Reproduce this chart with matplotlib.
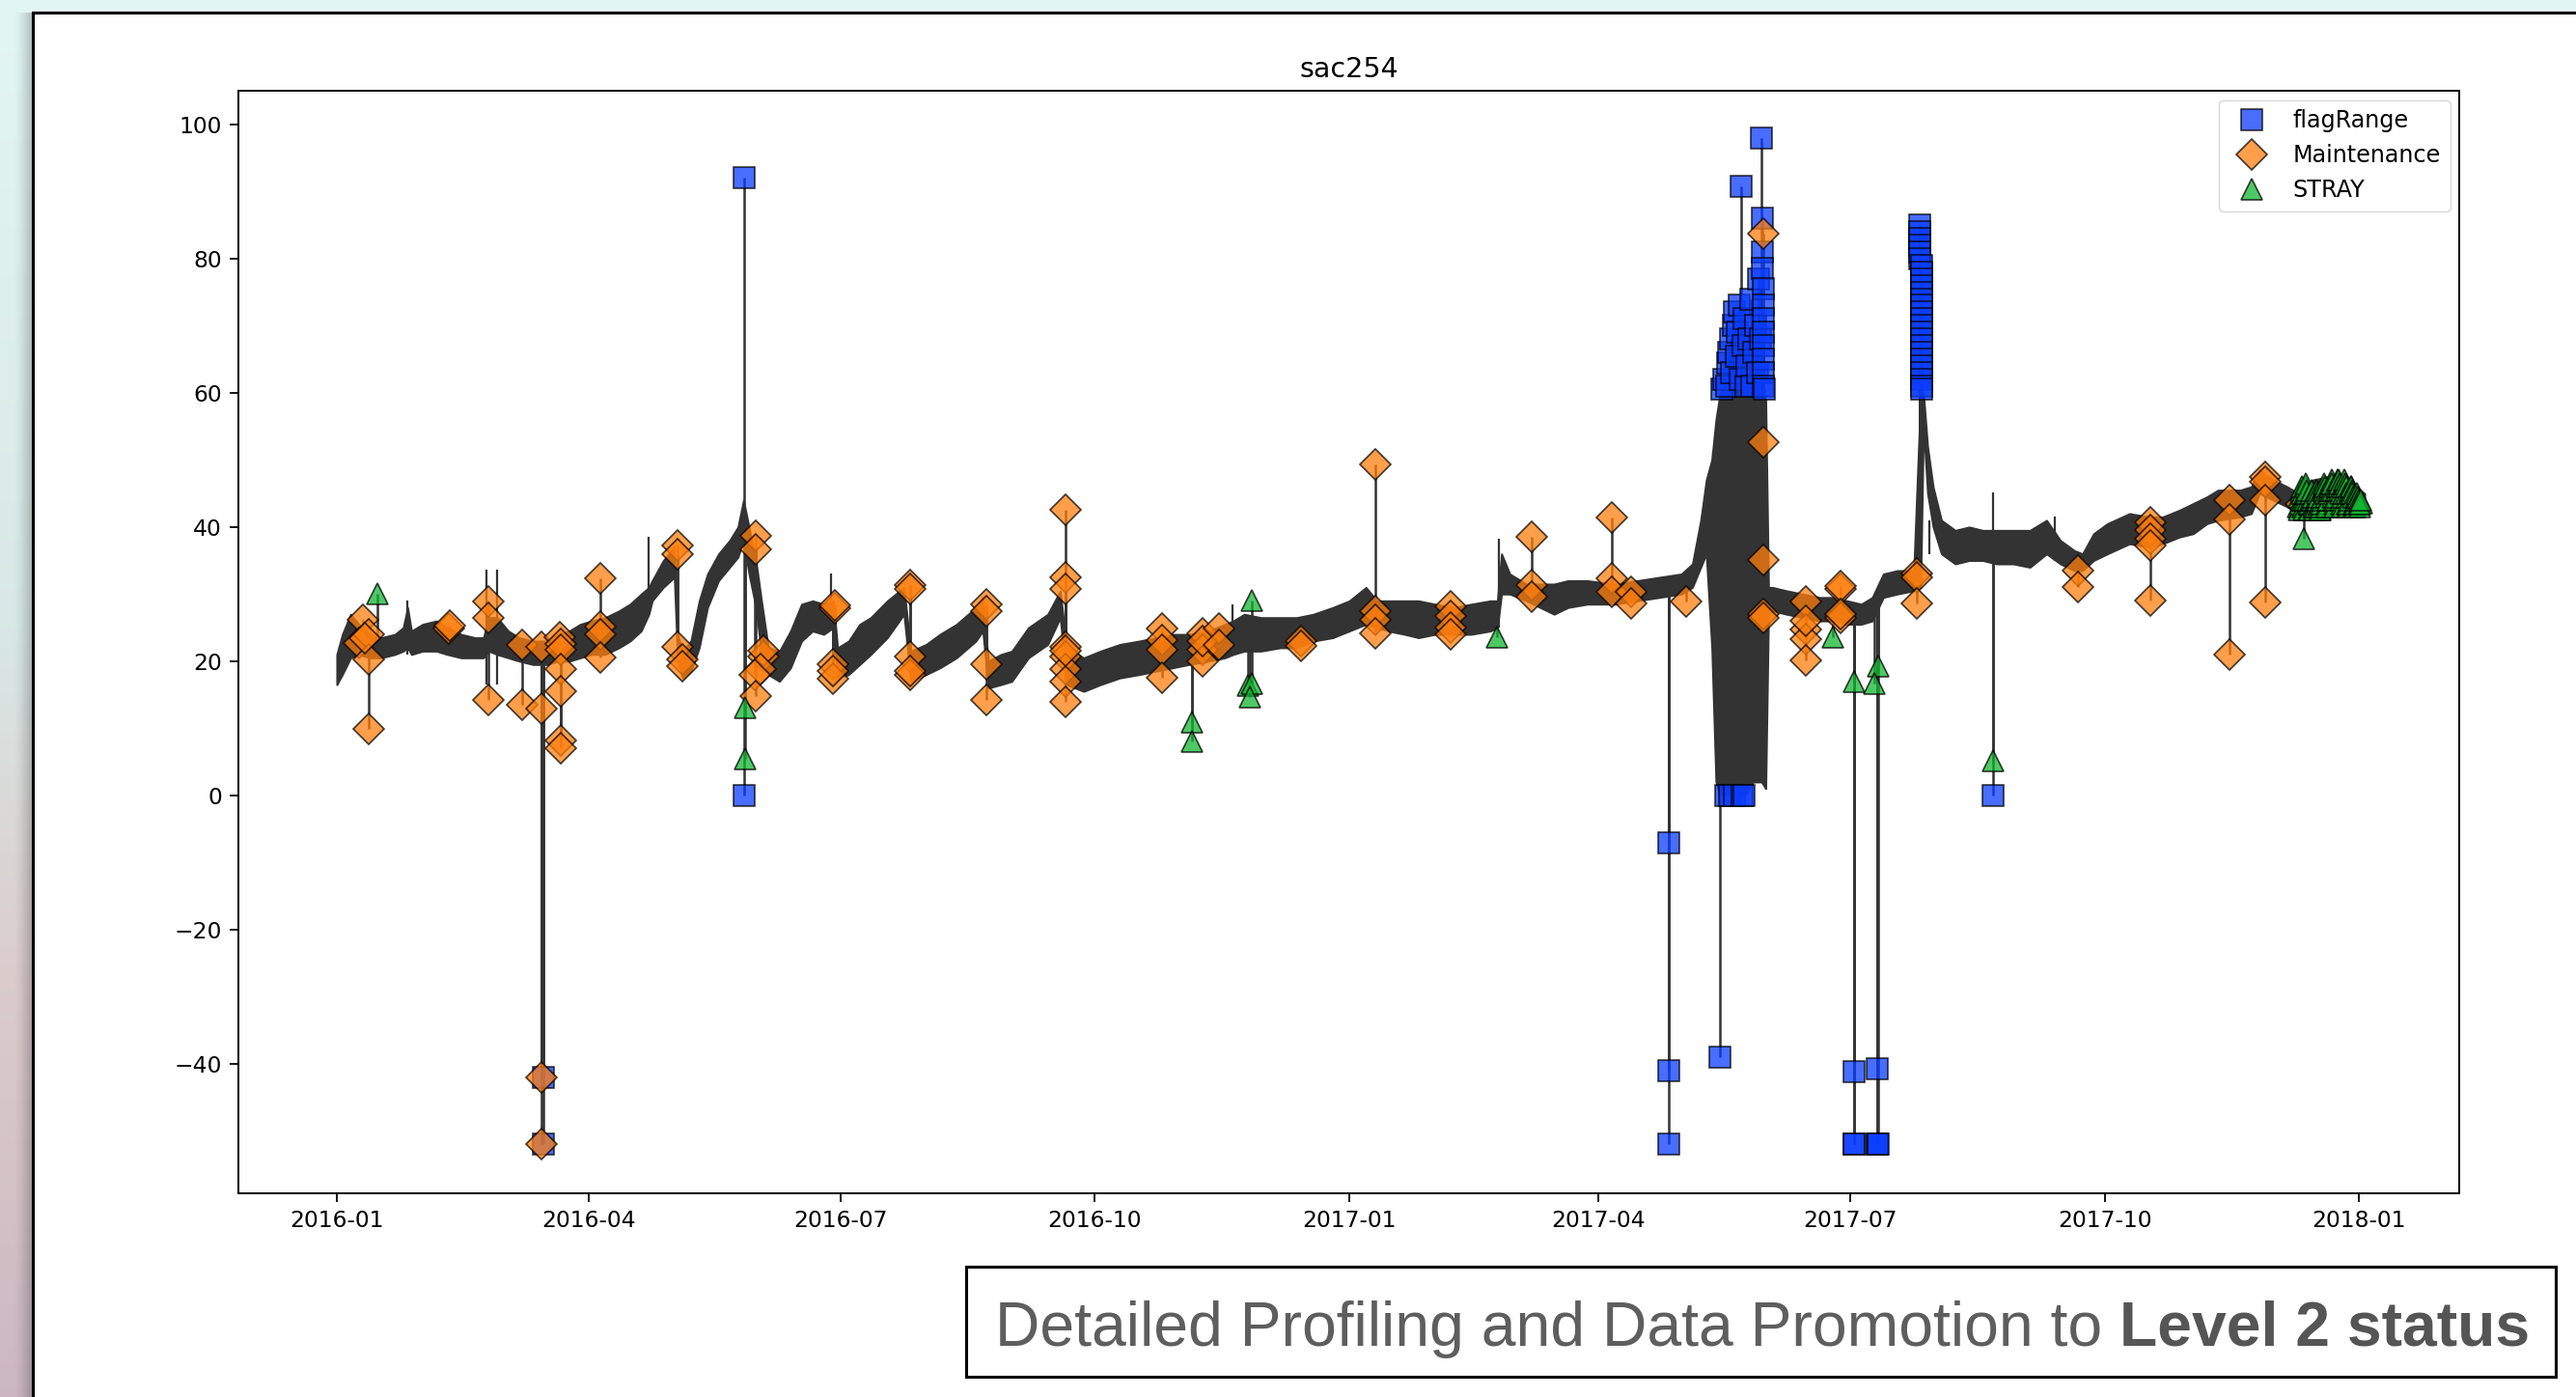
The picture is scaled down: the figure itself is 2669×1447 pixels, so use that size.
import numpy as np
import matplotlib
matplotlib.use("Agg")
import matplotlib.pyplot as plt
import matplotlib.dates as mdates
from matplotlib.patches import Rectangle

# ---- data (days since 2016-01-01) ----
# noisy sensor trace, read as a lower / upper envelope
trace_day = [0, 2, 5, 8, 12, 16, 21, 24, 25.6, 27, 31, 36, 40, 45, 50, 53, 55, 58, 62, 66,
             71, 76, 80, 84, 88, 92, 97, 102, 106, 110, 112.8, 114, 118, 122, 123.2, 125, 128, 131, 134, 138,
             142, 145, 147, 149, 151.5, 153.5, 156, 160, 164, 168, 172, 176, 179.5, 181, 185, 189, 193, 199, 205, 207.5,
             213, 218, 224, 231, 233.5, 235.5, 240, 244, 250, 257, 261.5, 263.8, 270, 276, 283, 290, 296, 302, 308, 315,
             321, 324, 328, 334, 341, 347, 353, 360, 366, 372, 376, 380, 386, 391, 397, 404, 410, 417, 419.5, 421,
             424, 430, 435, 440, 445, 452, 462, 470, 478, 486, 490, 493, 495, 497, 498.5, 500, 503, 506, 509, 512,
             515, 516.5, 517.5, 519, 524, 530, 536, 541, 546, 551, 555, 559, 564, 570, 572.5, 573.5, 575, 577, 580, 585,
             590, 595, 600, 606, 612, 618, 623, 628, 631, 635, 640, 648, 655, 660, 666, 671, 676, 680, 688, 692,
             695, 700, 705, 709, 714, 720, 726, 733]
trace_lo = [16.5, 18, 20.5, 21, 20.5, 20.5, 21, 21.5, 22, 21, 21.5, 21.5, 21, 20.5, 20.5, 20.5, 21.5, 21, 20.5, 20,
            19.5, 19.5, 20, 20, 20.5, 21, 21, 22, 23, 24.5, 27, 29, 31, 32.5, 20, 17.5, 18.5, 22, 28, 32,
            34, 35.5, 38, 33, 28, 21, 18, 17, 19, 23, 24.5, 24, 25, 17.5, 18, 19.5, 21, 23.5, 27, 17,
            18, 19, 20.5, 23, 24.5, 16, 16.5, 17, 20.5, 22.5, 26.5, 16.5, 15.5, 16.5, 17.5, 18, 18.5, 19, 19.5, 20,
            20.5, 21, 21.5, 21.5, 22, 22, 23, 23.5, 24.5, 25.5, 25, 24.5, 24, 23.5, 24, 24, 24, 24.5, 25, 30,
            30, 29, 28, 27, 28, 28.5, 28.5, 29, 29.5, 30, 31, 34, 36, 22, 2, 0, 0, 0, 0, 2,
            2, 1, 27, 27.5, 27, 26.5, 26, 26, 25.5, 25.5, 26, 29.5, 30, 30.5, 31, 55, 45, 40, 36, 34.5,
            35, 35, 34.5, 34.5, 34, 36, 34.5, 33.5, 33.5, 35, 36, 37.5, 37, 37.5, 38.5, 39, 40.5, 41, 41.5, 42,
            45, 44, 43, 42, 42, 42.5, 42.5, 42.5]
trace_hi = [21, 24, 27, 25.5, 24, 23.5, 24, 25, 28, 24.5, 25.5, 26, 25, 24, 23.5, 23.5, 26.5, 26.5, 24.5, 23.5,
            23, 23, 24, 24.5, 25.5, 26, 26.5, 27.5, 28.5, 30, 31, 32, 35, 37, 24, 21.5, 23, 29, 33, 36,
            38, 40, 44, 40, 35, 29, 22, 21.5, 24.5, 28.5, 29, 28.5, 29, 22, 23, 25.5, 26.5, 29, 31, 21.5,
            22.5, 24, 25.5, 28, 29.5, 20, 21, 21.5, 25, 27, 30.5, 22, 20.5, 21.5, 22.5, 23, 23.5, 24, 24, 24.5,
            25.5, 26, 27, 26.5, 26.5, 26.5, 27, 28, 29, 31, 29, 29, 29, 29, 28.5, 28, 28.5, 29, 29, 36,
            33, 31.5, 31.5, 31.5, 32, 32, 31.5, 32, 32.5, 33, 34.5, 41, 47, 50, 56, 60, 60, 60, 60, 60,
            60, 59, 31, 31, 30.5, 30, 29.5, 29.5, 29, 28.5, 29.5, 33, 33.5, 33.5, 60, 60, 52, 46, 41, 39.5,
            40, 39.5, 39.5, 39.5, 39.5, 41, 38, 36.5, 36, 39, 40.5, 42, 41.5, 41.5, 42.5, 43.5, 44.5, 45.5, 45.5, 46,
            48.5, 47, 46, 45, 47, 47.5, 47, 45]

# isolated spikes of the trace (day, low, high)
spike_day = [25.6, 54.0, 57.9, 112.8, 178.6, 323.9, 420.0, 497.6, 598.7, 575.5, 621.0]
spike_lo = [21, 16.5, 16.5, 27, 25, 21, 25, 40, 35, 36, 35]
spike_hi = [29, 33.7, 33.7, 38.5, 33, 28.4, 38.3, 51.2, 45.2, 41, 41.5]

# flagRange points
flag_day = [74.8, 74.8, 147.3, 147.3, 481.6, 481.6, 481.6, 500.0,
            502.1, 503.5, 505.0, 507.9, 508.5,
            500.8, 501.5, 502.3, 502.8, 503.2, 503.8, 504.3, 504.8, 505.2, 505.8, 506.3, 506.8, 507.2, 507.7,
            508.2, 508.6, 509.2, 509.8, 510.3, 511.0, 511.6, 512.2, 512.8, 513.4, 514.0, 514.6, 515.0, 515.2,
            515.3, 515.4, 515.5, 515.5, 515.6, 515.6, 515.7, 515.7, 515.8, 515.8, 515.9,
            548.5, 548.5, 548.5, 556.9, 556.9, 556.9, 557.2,
            572.3, 572.3, 572.3, 572.3, 572.3, 572.3,
            573, 573, 573, 573, 573, 573, 573, 573, 573, 573, 573, 573, 573, 573, 573, 573, 573, 573, 573, 573,
            598.7]
flag_val = [-42, -52, 92, 0, -7, -41, -52, -39,
            0, 0, 0, 0, 0,
            60.5, 62, 61, 64.5, 66, 68, 63, 70, 72, 65.5, 69, 73, 62, 90.8,
            67, 71, 61, 64, 68, 74, 61, 66, 70, 63, 77, 68, 98, 86,
            81, 78.5, 75.5, 73, 71, 69, 67, 65, 63, 61, 60.5,
            -41.2, -52, -52, -40.8, -52, -52, -52,
            85, 84, 83, 82, 81, 80,
            79, 78, 77, 76, 75, 74, 73, 72, 71, 70, 69, 68, 67, 66, 65, 64, 63, 62, 61, 60.5,
            0]

# Maintenance points
maint_day = [9.5, 8.2, 11.4, 11.4, 11.4, 10, 40.5, 40.8, 54.7, 54.7, 54.7, 67, 67,
             74, 74, 74, 74, 80.5, 80.8, 80.8, 80.8, 80.8, 80.8, 80.8,
             95.4, 95.4, 95.4, 95.4, 123.1, 123.1, 123.1, 124.8, 124.8,
             151.5, 151.5, 154.1, 154.1, 153, 151, 151.5, 179.9, 179.9, 179.2, 179.2, 179.2,
             207.1, 207.1, 207.1, 207.1, 207.1, 234.9, 234.9, 234.9, 234.9,
             263.5, 263.5, 263.5, 263.5, 263.5, 263.5, 263.5, 263.5, 263.5,
             298.4, 298.4, 298.4, 298.4, 312.9, 312.9, 312.9, 312.9, 318.8, 318.8, 348.4, 348.4,
             375.5, 375.5, 375.5, 375.5, 402.7, 402.7, 402.7, 402.7, 431.8, 431.8, 431.8,
             460.8, 460.8, 460.8, 467.9, 467.9, 487.9,
             515.7, 515.7, 515.7, 515.7, 515.7, 531.1, 531.1, 531.1, 531.1, 531.1,
             543.4, 543.4, 543.4, 543.4, 571.2, 571.2, 571.2,
             629.5, 629.5, 655.7, 655.7, 655.7, 655.7, 655.7, 684.2, 684.2, 684.2,
             697, 697, 697, 697, 709.8]
maint_val = [26.2, 22.7, 24, 20.3, 9.9, 23.5, 24.8, 25.3, 28.9, 26.5, 14.25, 22.4, 13.5,
             22.2, 13, -42, -52, 23.6, 22.5, 21.7, 18.8, 15.45, 8.2, 7.0,
             32.3, 25.1, 24, 20.5, 37.3, 35.9, 22.2, 20.3, 19.3,
             38.7, 36.6, 20.7, 21.5, 18.8, 17.9, 14.8, 27.9, 28.3, 19.5, 17.4, 18.5,
             31.3, 30.8, 20.7, 17.9, 18.5, 28.4, 27.5, 19.5, 14.25,
             42.6, 32.5, 30.8, 22.2, 20.7, 18.8, 16.9, 14.0, 21.5,
             24.8, 23.2, 21.7, 17.6, 24.1, 21.7, 20, 23, 24.8, 22.4, 23, 22.3,
             49.3, 27.5, 26.1, 24.1, 28.2, 26.8, 25, 24, 38.6, 31.3, 29.6,
             41.4, 32.4, 30.3, 30.3, 28.6, 28.9,
             83.7, 52.6, 35.1, 27.1, 26.5, 28.9, 24.7, 23.3, 20.1, 26,
             30.7, 26.5, 31.2, 27, 33.1, 32.5, 28.6,
             33.5, 31.1, 40.7, 39.5, 38.3, 37.3, 29.1, 44, 41.1, 21,
             47.4, 46.8, 44, 28.7, 43.5]

# STRAY points (isolated ones, then the dense end-of-record cluster)
stray_day = [14.7, 147.6, 147.6, 309.1, 309.1, 330.6, 329.3, 330.7, 330, 419.5, 540.8, 548.6, 557, 555.7,
             598.7, 711, 731.9]
stray_val = [30, 13.1, 5.4, 10.9, 8.0, 29.1, 16.4, 16.6, 14.7, 23.6, 23.6, 17, 19.3, 16.6,
             5.1, 38.2, 43.6]
stray_end_day = [709.0, 709.2, 709.4, 709.6, 709.8, 710.0, 710.2, 710.4, 710.6, 710.8,
                 711.0, 711.2, 711.4, 711.6, 711.8, 712.0, 712.2, 712.4, 712.6, 712.8,
                 713.0, 713.2, 713.4, 713.6, 713.8, 714.0, 714.2, 714.4, 714.6, 714.8,
                 715.0, 715.2, 715.4, 715.6, 715.8, 716.0, 716.2, 716.4, 716.6, 716.8,
                 717.0, 717.2, 717.4, 717.6, 717.8, 718.0, 718.2, 718.4, 718.6, 718.8,
                 719.0, 719.2, 719.4, 719.6, 719.8, 720.0, 720.2, 720.4, 720.6, 720.8,
                 721.0, 721.2, 721.4, 721.6, 721.8, 722.0, 722.2, 722.4, 722.6, 722.8,
                 723.0, 723.2, 723.4, 723.6, 723.8, 724.0, 724.2, 724.4, 724.6, 724.8,
                 725.0, 725.2, 725.4, 725.6, 725.8, 726.0, 726.2, 726.4, 726.6, 726.8,
                 727.0, 727.2, 727.4, 727.6, 727.8, 728.0, 728.2, 728.4, 728.6, 728.8,
                 729.0, 729.2, 729.4, 729.6, 729.8, 730.0, 730.2, 730.4, 730.6, 730.8,
                 731.0, 731.2, 731.4, 731.6]
stray_end_val = [43.0, 42.5, 44.5, 43.5, 45.5, 44.0, 46.0, 45.0, 44.0, 43.0,
                 42.5, 44.0, 45.0, 46.0, 46.5, 45.0, 45.5, 44.0, 43.5, 42.5,
                 42.5, 43.5, 44.0, 45.0, 45.5, 44.0, 44.5, 43.5, 43.0, 42.5,
                 42.5, 43.0, 44.0, 45.5, 45.0, 44.0, 44.5, 43.0, 43.5, 42.5,
                 42.5, 43.0, 43.5, 44.0, 44.5, 45.5, 45.5, 46.5, 46.0, 45.0,
                 44.5, 43.5, 43.0, 44.0, 44.0, 45.0, 45.5, 46.0, 46.5, 45.5,
                 47.0, 46.5, 45.5, 44.5, 44.0, 43.5, 43.0, 44.0, 44.5, 45.5,
                 46.0, 47.0, 47.0, 46.0, 46.5, 45.5, 45.0, 44.0, 43.5, 43.0,
                 44.5, 45.0, 46.0, 46.5, 47.0, 46.5, 46.0, 45.0, 44.5, 43.5,
                 43.0, 43.5, 44.0, 45.0, 45.5, 46.0, 46.0, 45.5, 45.0, 44.5,
                 43.5, 43.0, 43.0, 43.5, 44.0, 44.5, 45.0, 44.5, 44.5, 44.0,
                 43.5, 43.0, 43.5, 44.0]

base = mdates.date2num(np.datetime64("2016-01-01"))


def to_dates(days):
    return base + np.asarray(days, dtype=float)


W, H = 2669, 1447
fig = plt.figure(figsize=(W / 100, H / 100), dpi=100)

# ---- slide background ----
bg = fig.add_axes([0, 0, 1, 1], zorder=-10)
bg.set_xlim(0, W)
bg.set_ylim(H, 0)
bg.axis("off")
yy = np.linspace(0, 1, 300)
stops = [0.0, 0.45, 0.7, 1.0]
cols = np.array([[0.886, 0.965, 0.957], [0.85, 0.91, 0.90], [0.86, 0.80, 0.80], [0.80, 0.72, 0.76]])
grad = np.stack([np.interp(yy, stops, cols[:, k]) for k in range(3)], axis=-1)[:, None, :]
bg.imshow(grad, extent=[0, W, H, 0], aspect="auto", zorder=0)
shadow = np.zeros((1, 50, 4))
shadow[..., 3] = np.linspace(0, 0.38, 50) ** 1.5
bg.imshow(shadow, extent=[14, 34, H, 13], aspect="auto", zorder=1)
bg.add_patch(Rectangle((34, 13), W, H, facecolor="white", edgecolor="black", lw=2.2, zorder=2))

# caption box
bg.add_patch(Rectangle((1001, 1312), 1647, 114, facecolor="white", edgecolor="black", lw=2.2, zorder=3))
t1 = bg.text(1031, 1394, "Detailed Profiling and Data Promotion to ", fontsize=46.3,
             family="Liberation Sans", color="#5e5e5e", va="baseline", ha="left", zorder=4)
bg.annotate("Level 2 status", xy=(1, 0), xycoords=t1, xytext=(0, 0), textcoords="offset points",
            fontsize=46.3, family="Liberation Sans", fontweight="bold", color="#555555",
            va="bottom", ha="left", zorder=4)

# ---- chart ----
ax = fig.add_axes([0.0925, 0.1458, 0.8622, 0.7892])

td = to_dates(trace_day)
ax.fill_between(td, trace_lo, trace_hi, color="#333333", lw=1.4, zorder=2)
ax.vlines(to_dates(spike_day), spike_lo, spike_hi, color="#333333", lw=1.6, zorder=2)

trace_mid = (np.array(trace_lo) + np.array(trace_hi)) / 2
for days, vals in [(flag_day, flag_val), (maint_day, maint_val), (stray_day, stray_val)]:
    d = np.asarray(days, dtype=float)
    ax.vlines(to_dates(d), np.interp(d, trace_day, trace_mid), vals, color="#333333", lw=1.8, zorder=2)

mk = dict(ls="none", ms=15.8, mec="black", mew=1.2, alpha=0.75, zorder=3)
ax.plot(to_dates(flag_day), flag_val, marker="s", mfc="#0a3cff", label="flagRange", **mk)
ax.plot(to_dates(maint_day), maint_val, marker="D", mfc="#ff7f0e", label="Maintenance", **mk)
ax.plot(to_dates(stray_day + stray_end_day), stray_val + stray_end_val, marker="^", mfc="#12b630",
        label="STRAY", **mk)

ax.set_xlim(base - 35.6, base + 767.2)
ax.set_ylim(-59.3, 105.0)
ax.xaxis.set_major_locator(mdates.MonthLocator(bymonth=[1, 4, 7, 10]))
ax.xaxis.set_major_formatter(mdates.DateFormatter("%Y-%m"))
ax.tick_params(labelsize=16.8, length=6.2, width=1.3, pad=6)
for s in ax.spines.values():
    s.set_linewidth(1.4)
ax.set_title("sac254", fontsize=20.5, pad=10)
ax.legend(loc="upper right", fontsize=17.2, numpoints=1, borderaxespad=0.4)

fig.savefig("out.png", dpi=100)
